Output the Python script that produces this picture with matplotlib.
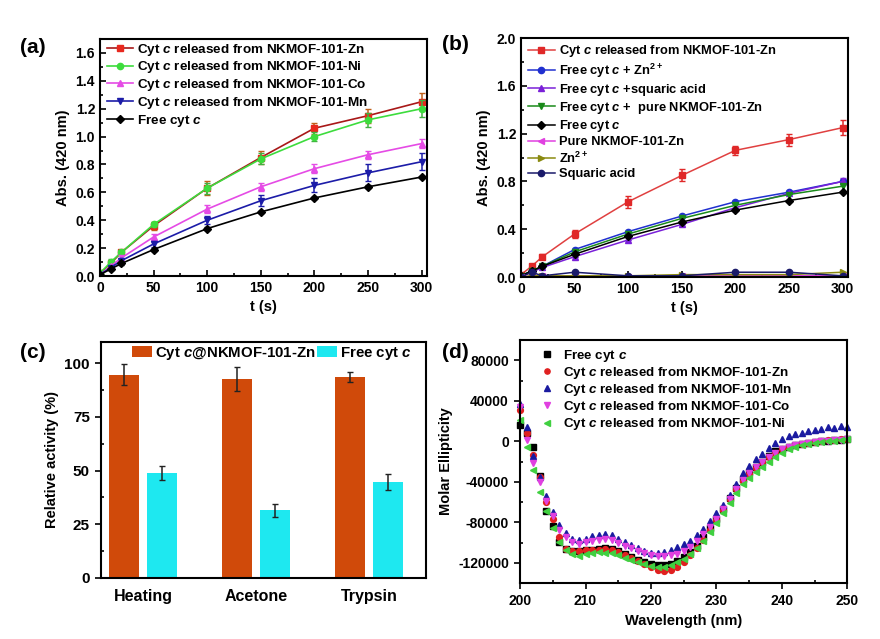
import numpy as np
import matplotlib
matplotlib.use("Agg")
import matplotlib.pyplot as plt
from matplotlib.ticker import MultipleLocator

plt.rcParams['font.family'] = ['Liberation Sans', 'DejaVu Sans']
plt.rcParams['font.weight'] = 'bold'
plt.rcParams['axes.labelweight'] = 'bold'
plt.rcParams['axes.unicode_minus'] = False
plt.rcParams['mathtext.fontset'] = 'custom'
plt.rcParams['mathtext.rm'] = 'Liberation Sans:bold'
plt.rcParams['mathtext.it'] = 'Liberation Sans:italic:bold'
plt.rcParams['mathtext.bf'] = 'Liberation Sans:bold'
plt.rcParams['axes.linewidth'] = 1.5

# ---------------- data ----------------
t = [0, 10, 20, 50, 100, 150, 200, 250, 300]

# panel (a)
rel_zn = [0.02, 0.09, 0.17, 0.36, 0.63, 0.85, 1.06, 1.15, 1.25]
rel_zn_err = [0.01, 0.02, 0.02, 0.03, 0.05, 0.05, 0.04, 0.05, 0.06]
rel_ni = [0.02, 0.10, 0.17, 0.37, 0.63, 0.84, 1.00, 1.12, 1.20]
rel_ni_err = [0.01, 0.02, 0.02, 0.02, 0.04, 0.04, 0.03, 0.05, 0.06]
rel_co = [0.01, 0.07, 0.13, 0.28, 0.48, 0.64, 0.77, 0.87, 0.95]
rel_co_err = [0.01, 0.01, 0.02, 0.02, 0.03, 0.03, 0.03, 0.03, 0.03]
rel_mn = [0.01, 0.06, 0.11, 0.23, 0.40, 0.54, 0.65, 0.74, 0.82]
rel_mn_err = [0.01, 0.01, 0.02, 0.02, 0.03, 0.04, 0.05, 0.06, 0.06]
free = [0.01, 0.05, 0.09, 0.19, 0.34, 0.46, 0.56, 0.64, 0.71]
free_err = [0.005, 0.01, 0.01, 0.01, 0.01, 0.01, 0.01, 0.01, 0.01]

# panel (b)
free_zn = [0.01, 0.05, 0.09, 0.23, 0.38, 0.51, 0.63, 0.71, 0.80]
free_sq = [0.01, 0.04, 0.08, 0.17, 0.31, 0.44, 0.58, 0.70, 0.80]
free_sq_err = [0.0, 0.0, 0.0, 0.0, 0.0, 0.0, 0.0, 0.0, 0.03]
free_mof = [0.01, 0.05, 0.09, 0.21, 0.36, 0.49, 0.60, 0.69, 0.76]
pure_mof = [0.0, 0.01, 0.01, 0.01, 0.0, 0.01, 0.01, 0.01, 0.01]
zn_ion = [0.0, 0.01, 0.01, 0.01, 0.01, 0.02, 0.02, 0.02, 0.04]
squaric = [0.0, 0.04, 0.01, 0.04, 0.01, 0.01, 0.04, 0.04, 0.01]

# panel (c)
treatments = ['Heating', 'Acetone', 'Trypsin']
act_mof = [94.6, 92.6, 93.6]
act_mof_err = [4.8, 5.6, 2.2]
act_free = [48.7, 31.6, 44.8]
act_free_err = [3.3, 3.0, 3.8]

# panel (d)
wl = np.arange(200, 251)
cd_free = [16000, 8000, -6000, -34000, -69000, -84000, -99000, -106000, -108000, -108000,
           -107000, -107000, -106000, -105000, -106000, -108000, -111000, -114000, -117000, -119000,
           -121000, -122000, -122000, -121000, -118000, -114000, -109000, -103000, -95000, -86000,
           -77000, -67000, -56000, -46000, -37000, -30000, -25000, -20000, -14000, -10000,
           -8000, -6000, -4000, -3000, -2000, -1000, 0, 0, 1000, 1000, 2000]
cd_zn = [31000, 8000, -13000, -35000, -60000, -77000, -95000, -106000, -108000, -108000,
         -107000, -107000, -107000, -106000, -107000, -109000, -112000, -115000, -118000, -121000,
         -124000, -127000, -128000, -127000, -124000, -119000, -112000, -105000, -97000, -88000,
         -78000, -68000, -57000, -47000, -39000, -32000, -26000, -20000, -15000, -11000,
         -8000, -6000, -4000, -3000, -2000, -1000, 0, 1000, 1000, 2000, 2000]
cd_mn = [37000, 14000, -14000, -35000, -54000, -70000, -83000, -91000, -96000, -97000,
         -96000, -94000, -93000, -92000, -93000, -96000, -99000, -102000, -105000, -108000,
         -110000, -110000, -109000, -107000, -104000, -101000, -98000, -93000, -87000, -79000,
         -71000, -63000, -53000, -42000, -31000, -24000, -17000, -12000, -7000, -2000,
         2000, 5000, 7000, 8000, 10000, 11000, 12000, 14000, 13000, 15000, 14000]
cd_co = [34000, 1000, -21000, -40000, -59000, -74000, -88000, -95000, -99000, -101000,
         -99000, -98000, -97000, -96000, -97000, -100000, -103000, -105000, -108000, -110000,
         -112000, -113000, -113000, -112000, -111000, -108000, -104000, -98000, -92000, -85000,
         -77000, -67000, -57000, -47000, -38000, -31000, -25000, -20000, -15000, -11000,
         -8000, -6000, -4000, -3000, -2000, -1000, 0, 500, 1000, 1500, 2000]
cd_ni = [21000, -6000, -28000, -50000, -69000, -86000, -99000, -107000, -111000, -113000,
         -111000, -110000, -109000, -110000, -110000, -112000, -115000, -117000, -119000, -121000,
         -123000, -124000, -124000, -122000, -119000, -116000, -111000, -105000, -98000, -90000,
         -81000, -71000, -61000, -51000, -42000, -36000, -30000, -25000, -20000, -15000,
         -11000, -8000, -6000, -4000, -3000, -2000, -1000, 0, 0, 1000, 2000]

fig = plt.figure(figsize=(8.8, 6.39), dpi=100)

def style_ticks(ax, direction='in', size=10):
    ax.tick_params(which='both', direction=direction, width=1.2, labelsize=size)
    ax.tick_params(which='major', length=4.5)
    ax.tick_params(which='minor', length=2.5)
    for lab in ax.get_xticklabels() + ax.get_yticklabels():
        lab.set_fontweight('bold')

# ---------------- (a) ----------------
ax = fig.add_axes([0.1136, 0.568, 0.3716, 0.371])
series_a = [
    (rel_zn, rel_zn_err, 's', '#e8281e', '#a81818', '#c0601a', r'Cyt $c$ released from NKMOF-101-Zn'),
    (rel_ni, rel_ni_err, 'o', '#3ddc3d', '#3ddc3d', '#40b040', r'Cyt $c$ released from NKMOF-101-Ni'),
    (rel_co, rel_co_err, '^', '#e54be5', '#e54be5', '#e54be5', r'Cyt $c$ released from NKMOF-101-Co'),
    (rel_mn, rel_mn_err, 'v', '#1c1ca8', '#1c1ca8', '#1c1ca8', r'Cyt $c$ released from NKMOF-101-Mn'),
    (free, free_err, 'D', 'black', 'black', 'black', r'Free cyt $c$'),
]
for y, e, m, mc, lc, ec, lab in series_a:
    ax.errorbar(t, y, yerr=e, fmt='none', ecolor=ec, elinewidth=1.1, capsize=2)
    ax.plot(t, y, marker=m, ms=4.5 if m != 'D' else 3.8, mfc=mc, mec=mc,
            color=lc, lw=1.2, label=lab)
ax.set_xlim(0, 305)
ax.set_ylim(0, 1.7)
ax.xaxis.set_major_locator(MultipleLocator(50))
ax.xaxis.set_minor_locator(MultipleLocator(25))
ax.yaxis.set_major_locator(MultipleLocator(0.2))
ax.yaxis.set_minor_locator(MultipleLocator(0.1))
ax.set_yticklabels([f'{v:.1f}' for v in ax.get_yticks()])
ax.set_xlabel('t (s)', fontsize=10.5)
ax.set_ylabel('Abs. (420 nm)', fontsize=10.5)
style_ticks(ax)
ax.legend(loc='upper left', frameon=False, fontsize=9.7, handlelength=1.95,
          handletextpad=0.3, labelspacing=0.13, borderaxespad=0,
          bbox_to_anchor=(0.005, 1.012))

# ---------------- (b) ----------------
ax = fig.add_axes([0.592, 0.5665, 0.3716, 0.374])
series_b = [
    (rel_zn, rel_zn_err, 's', '#e02828', '#e04040', r'Cyt $c$ released from NKMOF-101-Zn'),
    (free_zn, None, 'o', '#2030d0', '#2030d0', r'Free cyt $c$ + Zn$^{2+}$'),
    (free_sq, free_sq_err, '^', '#7a20d8', '#7a20d8', r'Free cyt $c$ +squaric acid'),
    (free_mof, None, 'v', '#1a8a1a', '#1a8a1a', r'Free cyt $c$ +  pure NKMOF-101-Zn'),
    (free, None, 'D', 'black', 'black', r'Free cyt $c$'),
    (pure_mof, None, '<', '#e040e0', '#e040e0', 'Pure NKMOF-101-Zn'),
    (zn_ion, None, '>', '#8a8a10', '#8a8a10', r'Zn$^{2+}$'),
    (squaric, None, 'o', '#1a1a6a', '#1a1a6a', 'Squaric acid'),
]
for y, e, m, mc, lc, lab in series_b:
    if e is not None:
        ax.errorbar(t, y, yerr=e, fmt='none', ecolor=mc, elinewidth=1.1, capsize=2)
    ax.plot(t, y, marker=m, ms=4.5 if m != 'D' else 3.8, mfc=mc, mec=mc,
            color=lc, lw=1.1, label=lab)
ax.set_xlim(0, 305)
ax.set_ylim(0, 2.0)
ax.xaxis.set_major_locator(MultipleLocator(50))
ax.xaxis.set_minor_locator(MultipleLocator(25))
ax.yaxis.set_major_locator(MultipleLocator(0.4))
ax.yaxis.set_minor_locator(MultipleLocator(0.2))
ax.set_yticklabels([f'{v:.1f}' for v in ax.get_yticks()])
ax.set_xlabel('t (s)', fontsize=10.5)
ax.set_ylabel('Abs. (420 nm)', fontsize=10.5)
style_ticks(ax)
ax.legend(loc='upper left', frameon=False, fontsize=9.3, handlelength=2.1,
          handletextpad=0.35, labelspacing=0.17, borderaxespad=0,
          bbox_to_anchor=(0.005, 1.0))

# ---------------- (c) ----------------
ax = fig.add_axes([0.1148, 0.0955, 0.369, 0.370])
x = np.arange(len(treatments))
w = 0.265
off = 0.1675
ax.bar(x - off, act_mof, w, color='#d04a0a', label=r'Cyt $c$@NKMOF-101-Zn')
ax.bar(x + off, act_free, w, color='#1ee8f0', label=r'Free cyt $c$')
ax.errorbar(x - off, act_mof, yerr=act_mof_err, fmt='none', ecolor='#222222',
            elinewidth=1.1, capsize=2.5)
ax.errorbar(x + off, act_free, yerr=act_free_err, fmt='none', ecolor='#222222',
            elinewidth=1.1, capsize=2.5)
ax.set_xlim(-0.37, 2.5)
ax.set_ylim(0, 110)
ax.set_xticks(x)
ax.set_xticklabels(treatments)
ax.yaxis.set_major_locator(MultipleLocator(25))
ax.yaxis.set_minor_locator(MultipleLocator(12.5))
ax.set_ylabel('Relative activity (%)', fontsize=10.5)
style_ticks(ax, 'out', 11)
ax.tick_params(axis='y', which='minor', direction='in')
ax.tick_params(axis='x', length=0, labelsize=11.5, pad=8)
for lab in ax.get_xticklabels():
    lab.set_fontweight('bold')
ax.legend(loc='upper left', frameon=False, fontsize=10.8, ncol=2, handlelength=1.35,
          handleheight=0.75, handletextpad=0.2, columnspacing=0.1, borderaxespad=0,
          bbox_to_anchor=(0.076, 1.01))

# ---------------- (d) ----------------
ax = fig.add_axes([0.591, 0.0876, 0.372, 0.380])
series_d = [
    (cd_free, 's', 'black', r'Free cyt $c$'),
    (cd_zn, 'o', '#e02020', r'Cyt $c$ released from NKMOF-101-Zn'),
    (cd_mn, '^', '#1a1aa0', r'Cyt $c$ released from NKMOF-101-Mn'),
    (cd_co, 'v', '#e040e0', r'Cyt $c$ released from NKMOF-101-Co'),
    (cd_ni, '<', '#40d040', r'Cyt $c$ released from NKMOF-101-Ni'),
]
for y, m, c, lab in series_d:
    ax.plot(wl, y, ls='none', marker=m, ms=4.2, color=c, label=lab, clip_on=False)
ax.set_xlim(200, 250)
ax.set_ylim(-140000, 100000)
ax.xaxis.set_major_locator(MultipleLocator(10))
ax.xaxis.set_minor_locator(MultipleLocator(5))
ax.set_yticks([80000, 40000, 0, -40000, -80000, -120000])
ax.yaxis.set_minor_locator(MultipleLocator(20000))
ax.set_xlabel('Wavelength (nm)', fontsize=10.5)
ax.set_ylabel('Molar Ellipticity', fontsize=10.5)
style_ticks(ax, 'out', 10)
ax.tick_params(which='minor', direction='in')
ax.legend(loc='upper left', frameon=False, fontsize=9.6, handlelength=1.0,
          handletextpad=0.75, labelspacing=0.08, borderaxespad=0, markerscale=0.9,
          bbox_to_anchor=(0.045, 0.99))

# panel labels
for lbl, px, py in [('(a)', 0.0375, 0.925), ('(b)', 0.517, 0.93),
                    ('(c)', 0.0375, 0.449), ('(d)', 0.517, 0.449)]:
    fig.text(px, py, lbl, fontsize=15, fontweight='bold', ha='center', va='center')

fig.savefig('out.png', dpi=100)
